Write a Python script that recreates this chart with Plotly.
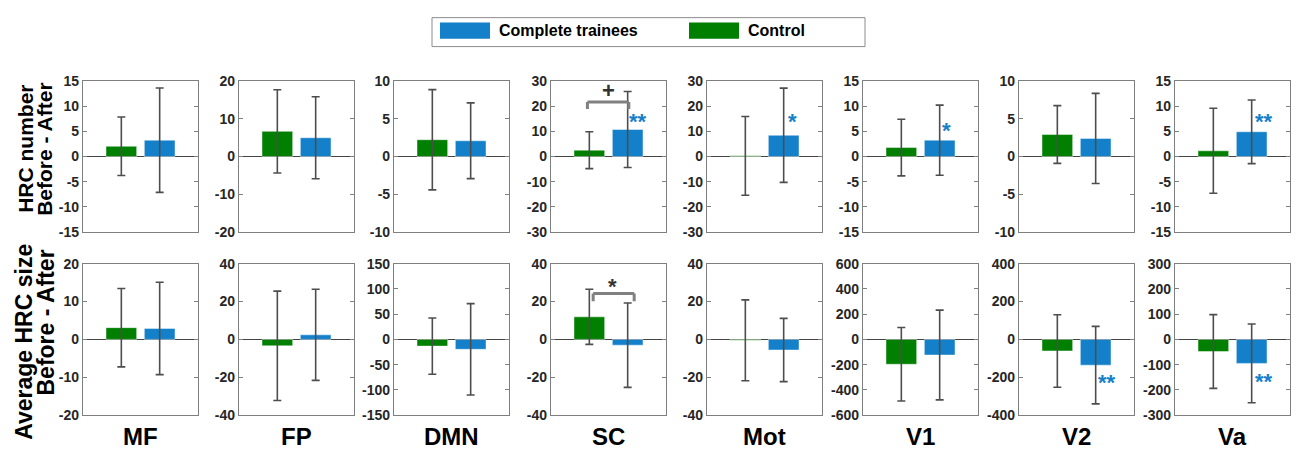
import plotly.graph_objects as go

W, H = 1299, 454

networks = ["MF", "FP", "DMN", "SC", "Mot", "V1", "V2", "Va"]
groups = ["Control", "Complete trainees"]

# Row 1: HRC number (Before - After)
num_control_mean = [2.05, 6.7, 2.24, 2.56, 0.3, 1.8, 2.93, 1.15]
num_control_sd = [5.83, 11.05, 6.66, 7.35, 15.7, 5.65, 3.84, 8.47]
num_trainee_mean = [3.27, 5.0, 2.1, 10.8, 8.5, 3.27, 2.41, 4.94]
num_trainee_sd = [10.4, 10.9, 5.03, 15.15, 18.8, 6.98, 5.99, 6.34]
num_ylim = [15, 20, 10, 30, 30, 15, 10, 15]
num_dtick = [5, 10, 5, 10, 10, 5, 5, 5]

# Row 2: Average HRC size (Before - After)
size_control_mean = [3.1, -3.4, -13.3, 11.9, -0.5, -197, -61, -48]
size_control_sd = [10.35, 28.9, 55.7, 14.55, 21.35, 291, 191.5, 146]
size_trainee_mean = [2.9, 2.4, -19.6, -3.05, -5.6, -124, -136, -95]
size_trainee_sd = [12.2, 24.05, 90.4, 22.3, 16.7, 355.5, 204.5, 156]
size_ylim = [20, 40, 150, 40, 40, 600, 400, 300]
size_dtick = [10, 20, 50, 20, 20, 200, 200, 100]

GREEN = "#007F00"
BLUE = "#1380C9"
FRAME = "#7F7F7F"
TICKC = "#262626"
ERRC = "#4D4D4D"
FONT = "Liberation Sans, Arial, sans-serif"

panel_left = [83, 239, 394, 551, 707, 863, 1019, 1175]
panel_w = 115
rows_px = [(76, 232), (265, 422)]


def px(x):
    return x / W


def py(y):
    return 1 - y / H


fig = go.Figure()
layout = {}
rows = [
    (num_control_mean, num_control_sd, num_trainee_mean, num_trainee_sd, num_ylim, num_dtick),
    (size_control_mean, size_control_sd, size_trainee_mean, size_trainee_sd, size_ylim, size_dtick),
]

for r, (cm, cs, tm, ts, ylim, dt) in enumerate(rows):
    for c in range(8):
        k = r * 8 + c + 1
        xs = "x" if k == 1 else f"x{k}"
        ys = "y" if k == 1 else f"y{k}"
        for g, m, s, col in [(groups[0], cm[c], cs[c], GREEN), (groups[1], tm[c], ts[c], BLUE)]:
            fig.add_trace(go.Bar(
                x=[g], y=[m], xaxis=xs, yaxis=ys, width=0.8,
                marker=dict(color=col, line=dict(color="rgba(255,255,255,0.45)", width=1)),
                error_y=dict(type="data", array=[s], visible=True, color=ERRC, thickness=1.6, width=4),
                showlegend=False, hoverinfo="skip",
            ))
        y0, y1 = rows_px[r]
        nt = int(round(ylim[c] / dt[c]))
        tv = [i * dt[c] for i in range(-nt, nt + 1)]
        tt = [str(v) for v in tv]
        layout["xaxis" if k == 1 else f"xaxis{k}"] = dict(
            domain=[px(panel_left[c]), px(panel_left[c] + panel_w)],
            anchor=ys, type="category", categoryorder="array", categoryarray=groups,
            range=[-1, 2], showticklabels=False, ticks="",
            showline=True, mirror=True, linecolor=FRAME, linewidth=1.2,
            showgrid=False, zeroline=False, fixedrange=True,
        )
        layout["yaxis" if k == 1 else f"yaxis{k}"] = dict(
            domain=[py(y1), py(y0)], anchor=xs,
            range=[-ylim[c], ylim[c]], tickmode="array", tickvals=tv, ticktext=tt,
            ticks="inside", ticklen=4, tickcolor=FRAME, tickwidth=1,
            showline=True, mirror="ticks", linecolor=FRAME, linewidth=1.2,
            showgrid=False, zeroline=True, zerolinecolor="#444444", zerolinewidth=1.2,
            tickfont=dict(family=FONT, size=14, color=TICKC, weight="bold"),
            fixedrange=True,
        )

annotations = []
shapes = []

# network labels under bottom row
for c, name in enumerate(networks):
    annotations.append(dict(
        x=px(panel_left[c] + panel_w / 2), y=py(444), xref="paper", yref="paper",
        text=f"<b>{name}</b>", showarrow=False, xanchor="center", yanchor="middle",
        font=dict(family=FONT, size=24, color="#000000"),
    ))

# y axis titles
ytitles = [
    ("HRC number", 26, 146, 21), ("Before - After", 45, 147, 21),
    ("Average HRC size", 24, 346, 23), ("Before - After", 46, 326, 23),
]
for t, xx, yy, fs in ytitles:
    annotations.append(dict(
        x=px(xx), y=py(yy), xref="paper", yref="paper", text=f"<b>{t}</b>",
        showarrow=False, textangle=-90, xanchor="center", yanchor="middle",
        font=dict(family=FONT, size=fs, color="#000000"),
    ))

# significance markers: (subplot index, x position, y value, text, colour)
sig_marks = [
    (4, 1.27, 15.6, "**", BLUE),
    (5, 1.22, 15.6, "*", BLUE),
    (6, 1.17, 5.9, "*", BLUE),
    (8, 1.32, 7.8, "**", BLUE),
    (15, 1.30, -207, "**", BLUE),
    (16, 1.33, -151, "**", BLUE),
    (4, 0.5, 26.5, "+", "#333333"),
    (12, 0.6, 29.8, "*", "#333333"),
]
for k, xv, yv, t, col in sig_marks:
    xs = "x" if k == 1 else f"x{k}"
    ys = "y" if k == 1 else f"y{k}"
    annotations.append(dict(
        x=xv, y=yv, xref=xs, yref=ys, text=f"<b>{t}</b>", showarrow=False,
        xanchor="center", yanchor="middle", yshift=-4 if "*" in t else 0,
        font=dict(family=FONT, size=22, color=col),
    ))

# brackets: (subplot index, x left, x right, y top, y leg end)
brackets = [(4, -0.05, 1.03, 21.8, 19.0), (12, 0.10, 1.17, 24.2, 20.2)]
for k, xa, xb, yt, yl in brackets:
    xs = "x" if k == 1 else f"x{k}"
    ys = "y" if k == 1 else f"y{k}"
    for (a0, b0, a1, b1) in [(xa, yl, xa, yt), (xa, yt, xb, yt), (xb, yt, xb, yl)]:
        shapes.append(dict(type="line", xref=xs, yref=ys, x0=a0, y0=b0, x1=a1, y1=b1,
                           line=dict(color="#808080", width=3)))

# manual legend
shapes.append(dict(type="rect", xref="paper", yref="paper", x0=px(432), x1=px(865),
                   y0=py(40), y1=py(10), line=dict(color="#8C8C8C", width=1), fillcolor="white"))
legend_items = [(groups[1], BLUE, 440), (groups[0], GREEN, 689)]
for name, col, lx in legend_items:
    shapes.append(dict(type="rect", xref="paper", yref="paper", x0=px(lx), x1=px(lx + 50),
                       y0=py(32), y1=py(15), line=dict(color=col, width=0), fillcolor=col))
    annotations.append(dict(
        x=px(lx + 57), y=py(23), xref="paper", yref="paper", text=f"<b>{name}</b>",
        showarrow=False, xanchor="left", yanchor="middle",
        font=dict(family=FONT, size=16, color="#000000"),
    ))

fig.update_layout(
    autosize=True, margin=dict(l=0, r=0, t=0, b=0),
    paper_bgcolor="white", plot_bgcolor="white",
    barmode="group", showlegend=False,
    annotations=annotations, shapes=shapes,
    font=dict(family=FONT),
    **layout,
)

fig.write_html(
    "out.html",
    config={"displayModeBar": False, "responsive": True},
    default_width="100vw",
    default_height="100vh",
    post_script=(
        "document.body.style.margin='0';"
        "document.body.style.overflow='hidden';"
        "Plotly.Plots.resize(document.getElementById('{plot_id}'));"
    ),
)
